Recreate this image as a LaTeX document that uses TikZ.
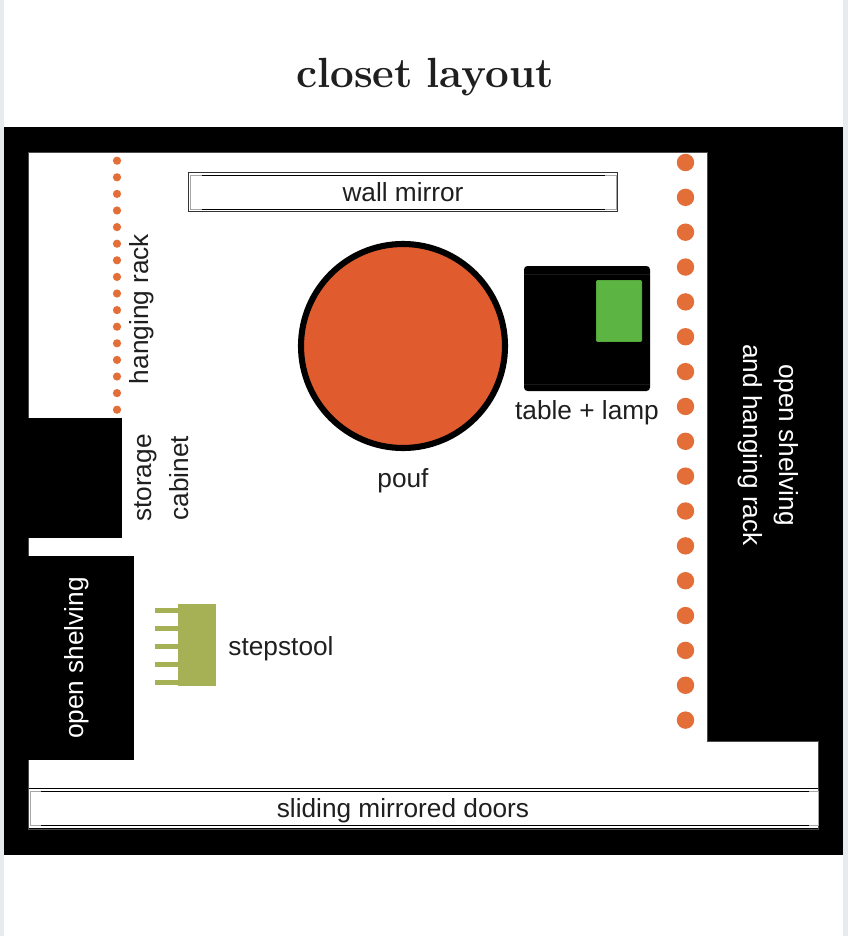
\documentclass[tikz,border=0pt]{standalone}
\usepackage{fontspec}
\setmainfont{Liberation Sans}
\newfontfamily\titlefont{Latin Modern Roman}
\usepackage{xcolor}
\definecolor{pageedge}{rgb}{0.91, 0.92, 0.93}
\definecolor{dotorange}{rgb}{0.89, 0.43, 0.22}
\definecolor{pouforange}{rgb}{0.88, 0.36, 0.18}
\definecolor{lampgreen}{rgb}{0.36, 0.71, 0.26}
\definecolor{lampedge}{rgb}{0.33, 0.65, 0.24}
\definecolor{stoolgreen}{rgb}{0.65, 0.69, 0.33}
\definecolor{textblack}{rgb}{0.12, 0.12, 0.12}
\tikzset{
	label/.style={text=textblack, font=\fontsize{22.4}{26}\selectfont, inner sep=0pt},
	wlabel/.style={text=white, font=\fontsize{22.4}{26}\selectfont, inner sep=0pt, align=center},
	thinline/.style={line width=0.85pt},
}
\begin{document}
\begin{tikzpicture}[x=0.03cm, y=-0.03cm]
\useasboundingbox (0,0) rectangle (848,936);
% page
\fill[pageedge] (0,0) rectangle (848,936);
\fill[white] (4,0) rectangle (843,936);
\node[text=textblack, font=\titlefont\bfseries\fontsize{36}{42}\selectfont, inner sep=0pt] (title) at (425,77) {closet\hspace{-2pt} layout};
% walls
\fill[black] (4,127.5) rectangle (843,855);
\filldraw[fill=white, draw=black!70, thinline] (28.5,152.5) -- (707,152.5) -- (707,741) -- (818,741) -- (818,829) -- (28.5,829) -- cycle;
% storage cabinet
\fill[black] (28,418) rectangle (122,538);
\node[label, rotate=90] (storage) at (146,478) {storage};
\node[label, rotate=90] (cabinet) at (179.5,478) {cabinet};
% open shelving
\fill[black] (28,556) rectangle (134,760);
\node[wlabel, rotate=90] (shelving) at (77,658) {open shelving};
% hanging racks
\foreach \i in {0,...,15}
	\fill[dotorange] (117,160.7+16.6*\i) circle (4.1);
\node[label, rotate=90] (rack) at (142,309) {hanging rack};
\foreach \i in {0,...,16}
	\fill[dotorange] (685.5,162.5+34.85*\i) circle (8.7);
\node[wlabel, rotate=-90] (shelvingrack) at (768.5,445) {open shelving\\[4.5pt]and hanging rack};
%% mirrors:
% wall mirror
\draw[thinline, black!80] (188.5,172.5) rectangle (617.5,211.5);
\draw[thinline, black!35] (190,175) rectangle (616.5,209);
\draw[thinline, black] (202,175) -- (605,175);
\draw[thinline, black] (202,209) -- (605,209);
\node[label] (wallmirror) at (403,192) {wall mirror};
% sliding doors
\draw[thinline, black!35] (30.5,791) rectangle (818,825.5);
\draw[thinline, black] (29,788.3) -- (818,788.3);
\draw[thinline, black] (41,791) -- (809,791);
\draw[thinline, black] (41,825.5) -- (809,825.5);
\draw[thinline, black] (29,828) -- (818,828);
\node[label] (doors) at (403,811) {sliding mirrored doors};
% pouf
\filldraw[fill=pouforange, draw=black, line width=5.2pt] (403,346) circle (102);
\node[label] (pouf) at (403,481) {pouf};
% table + lamp
\fill[black, rounded corners=3pt] (524,266) rectangle (650,391);
\draw[thinline, black!90] (524,274.3) -- (650,274.3);
\draw[thinline, black!90] (524,384.3) -- (650,384.3);
\filldraw[fill=lampgreen, draw=lampedge, thinline, rounded corners=1pt] (596.5,280.5) rectangle (641.5,341.5);
\node[label] (table) at (587,413) {table + lamp};
% stepstool
\fill[stoolgreen] (178,604) rectangle (216,686);
\foreach \i in {0,...,4}
	\fill[stoolgreen] (155,608+18*\i) rectangle (178,612.8+18*\i);
\node[label] (stepstool) at (281,649) {stepstool};
\end{tikzpicture}
\end{document}
